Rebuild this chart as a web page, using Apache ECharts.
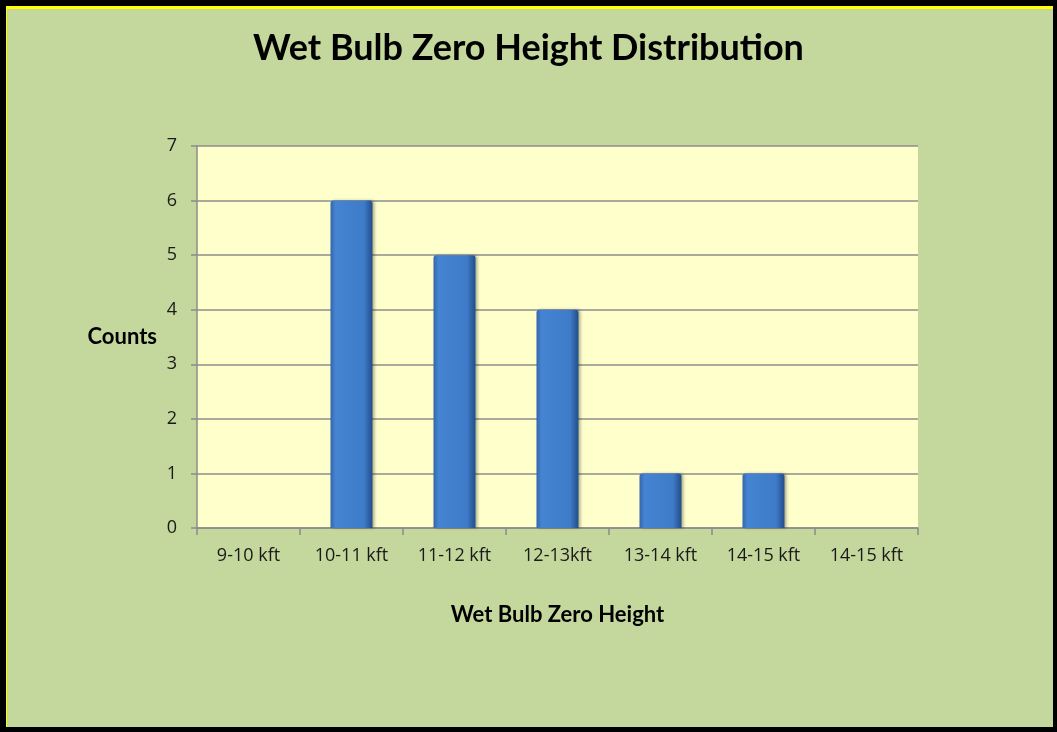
<!DOCTYPE html>
<html>
<head>
<meta charset="utf-8">
<script src="https://cdn.jsdelivr.net/npm/echarts@6/dist/echarts.min.js"></script>
<style>
  html, body { margin: 0; padding: 0; background: #000; }
  #frame {
    position: absolute; left: 6px; top: 6px; width: 1047px; height: 721px;
    box-sizing: border-box; background: #c4d79c;
    border-top: 3px solid #ffff00; border-left: 1px solid #ffff00;
  }
  #chart { position: absolute; left: 0; top: 0; width: 1057px; height: 732px; }
</style>
</head>
<body>
<div id="frame"></div>
<div id="chart"></div>
<script>
// 数据
const categories = ["9-10 kft", "10-11 kft", "11-12 kft", "12-13kft", "13-14 kft", "14-15 kft", "14-15 kft"];
const counts = [0, 6, 5, 4, 1, 1, 0];
const yTicks = { min: 0, max: 7, interval: 1 };

const chart = echarts.init(document.getElementById("chart"));
const options = {
  backgroundColor: "transparent",
  title: {
    text: "Wet Bulb Zero Height Distribution",
    left: "center",
    top: 25,
    textStyle: { fontFamily: "Lato", fontWeight: "bold", fontSize: 36, color: "#000" },
  },
  grid: {
    left: 197,
    right: 139,
    top: 146,
    bottom: 204,
    show: true,
    backgroundColor: "#ffffcc",
    borderWidth: 0,
  },
  xAxis: {
    type: "category",
    data: categories,
    name: "Wet Bulb Zero Height",
    nameLocation: "middle",
    nameGap: 76,
    nameTextStyle: { fontFamily: "Lato", fontWeight: "bold", fontSize: 22, color: "#000" },
    axisLine: { lineStyle: { color: "#8c8c8c", width: 1.5 } },
    axisTick: { show: true, alignWithLabel: false, length: 7, lineStyle: { color: "#8c8c8c", width: 1.5 } },
    axisLabel: { margin: 19, fontFamily: "Open Sans", fontSize: 18, color: "#1a1a1a" },
  },
  yAxis: {
    type: "value",
    min: yTicks.min,
    max: yTicks.max,
    interval: yTicks.interval,
    name: "Counts",
    nameLocation: "middle",
    nameRotate: 0,
    nameGap: 40,
    nameTextStyle: { fontFamily: "Lato", fontWeight: "bold", fontSize: 22, color: "#000", align: "right" },
    axisLine: { show: true, lineStyle: { color: "#8c8c8c", width: 1.5 } },
    axisTick: { show: true, length: 6, lineStyle: { color: "#8c8c8c", width: 1.5 } },
    axisLabel: { margin: 20, fontFamily: "Open Sans", fontSize: 18, color: "#1a1a1a" },
    splitLine: { lineStyle: { color: "#8c8c8c", width: 1.5 } },
  },
  series: [
    {
      type: "bar",
      data: counts,
      barWidth: 42,
      itemStyle: {
        color: new echarts.graphic.LinearGradient(0, 0, 1, 0, [
          { offset: 0, color: "#3566ab" },
          { offset: 0.12, color: "#4584d2" },
          { offset: 0.8, color: "#3e7bc8" },
          { offset: 1, color: "#234d88" },
        ]),
        borderRadius: [3, 3, 0, 0],
        shadowColor: "rgba(0,0,0,0.3)",
        shadowBlur: 3,
        shadowOffsetX: 2,
      },
    },
  ],
};
chart.setOption(options);
</script>
</body>
</html>
